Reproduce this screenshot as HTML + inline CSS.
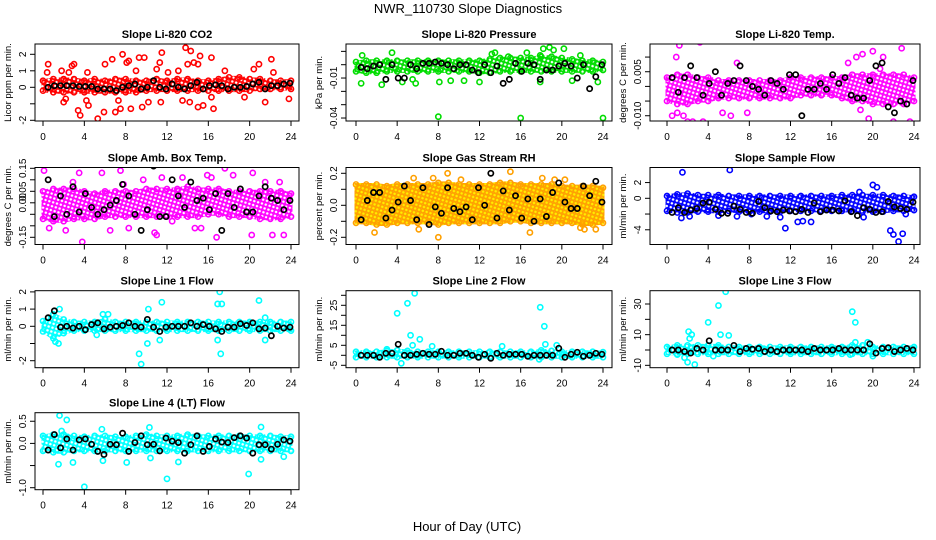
<!DOCTYPE html>
<html><head><meta charset="utf-8"><style>
html,body{margin:0;padding:0;background:#fff;}
svg{display:block;font-family:"Liberation Sans",sans-serif;}
</style></head><body>
<svg id="chart" width="936" height="540" viewBox="0 0 936 540">
<defs id="defs"></defs>
<text x="468" y="13" text-anchor="middle" font-size="13">NWR_110730  Slope Diagnostics</text>
<text x="467" y="531" text-anchor="middle" font-size="13">Hour of Day (UTC)</text>
</svg>
<script>
const xTicks=[0,4,8,12,16,20,24];
const hours=[0,1,2,3,4,5,6,7,8,9,10,11,12,13,14,15,16,17,18,19,20,21,22,23,24];
const blackX=[0.5,1.1,1.7,2.3,2.9,3.5,4.1,4.7,5.3,5.9,6.5,7.1,7.7,8.3,8.9,9.5,10.1,10.7,11.3,11.9,12.5,13.1,13.7,14.3,14.9,15.5,16.1,16.7,17.3,17.9,18.5,19.1,19.7,20.3,20.9,21.5,22.1,22.7,23.3,23.9];

const titles=["Slope Li-820 CO2","Slope Li-820 Pressure","Slope Li-820 Temp.","Slope Amb. Box Temp.","Slope Gas Stream RH","Slope Sample Flow","Slope Line 1 Flow","Slope Line 2 Flow","Slope Line 3 Flow","Slope Line 4 (LT) Flow"];
const yTitles=["Licor ppm per min.","kPa per min.","degrees C per min.","degrees C per min.","percent per min.","ml/min per min.","ml/min per min.","ml/min per min.","ml/min per min.","ml/min per min."];

const yTicks1=[-2,-1,0,1,2]; const yLab1=["-2","","0","1","2"];
const yTicks2=[-0.04,-0.03,-0.02,-0.01,0,0.01]; const yLab2=["-0.04","","","-0.01","",""];
const yTicks3=[-0.010,-0.005,0,0.005,0.010]; const yLab3=["-0.010","","","0.005",""];
const yTicks4=[-0.15,-0.10,-0.05,0,0.05,0.10,0.15]; const yLab4=["-0.15","","","0.00","0.05","","0.15"];
const yTicks5=[-0.2,-0.1,0,0.1,0.2]; const yLab5=["-0.2","","0.0","","0.2"];
const yTicks6=[-4,-2,0,2]; const yLab6=["-4","","0","2"];
const yTicks7=[-2,-1,0,1,2]; const yLab7=["-2","","0","1","2"];
const yTicks8=[-5,0,5,10,15,20,25,30]; const yLab8=["-5","","5","","15","","25",""];
const yTicks9=[-10,0,10,20,30]; const yLab9=["-10","","10","","30"];
const yTicks10=[-1,-0.5,0,0.5]; const yLab10=["-1.0","","0.0","0.5"];

// hourly envelopes of the dense point cloud
const bandLo1=[-0.2,-0.3,-0.3,-0.3,-0.3,-0.3,-0.3,-0.3,-0.3,-0.3,-0.2,-0.2,-0.2,-0.2,-0.2,-0.2,-0.2,-0.2,-0.2,-0.2,-0.2,-0.1,-0.1,-0.1,-0.1];
const bandHi1=[0.4,0.5,0.5,0.5,0.4,0.5,0.4,0.5,0.5,0.4,0.4,0.5,0.4,0.5,0.5,0.4,0.4,0.5,0.6,0.6,0.5,0.5,0.4,0.4,0.4];
const bandLo2=[-0.005,-0.006,-0.006,-0.005,-0.005,-0.005,-0.005,-0.005,-0.005,-0.005,-0.005,-0.005,-0.006,-0.006,-0.005,-0.005,-0.005,-0.005,-0.005,-0.005,-0.005,-0.005,-0.005,-0.005,-0.004];
const bandHi2=[0.002,0.003,0.003,0.003,0.003,0.003,0.003,0.003,0.003,0.003,0.003,0.003,0.003,0.004,0.005,0.005,0.005,0.005,0.006,0.006,0.005,0.004,0.003,0.003,0.002];
const bandLo3=[-0.005,-0.006,-0.006,-0.005,-0.005,-0.004,-0.004,-0.004,-0.004,-0.004,-0.004,-0.004,-0.004,-0.003,-0.003,-0.003,-0.003,-0.004,-0.005,-0.005,-0.006,-0.006,-0.006,-0.006,-0.005];
const bandHi3=[0.003,0.004,0.004,0.003,0.003,0.002,0.002,0.002,0.002,0.002,0.002,0.002,0.003,0.003,0.003,0.003,0.003,0.003,0.004,0.004,0.004,0.004,0.004,0.004,0.003];
const bandLo4=[-0.07,-0.08,-0.08,-0.07,-0.07,-0.07,-0.06,-0.06,-0.06,-0.06,-0.06,-0.06,-0.06,-0.06,-0.06,-0.06,-0.05,-0.05,-0.06,-0.06,-0.06,-0.07,-0.07,-0.07,-0.06];
const bandHi4=[0.05,0.06,0.06,0.06,0.05,0.04,0.05,0.05,0.05,0.05,0.06,0.06,0.06,0.06,0.07,0.06,0.06,0.06,0.05,0.05,0.05,0.05,0.05,0.05,0.04];
const bandLo5=[-0.11,-0.11,-0.12,-0.12,-0.11,-0.11,-0.11,-0.11,-0.12,-0.11,-0.11,-0.11,-0.11,-0.11,-0.11,-0.10,-0.10,-0.11,-0.11,-0.11,-0.11,-0.11,-0.12,-0.12,-0.11];
const bandHi5=[0.13,0.13,0.13,0.12,0.13,0.13,0.13,0.13,0.14,0.14,0.13,0.13,0.13,0.13,0.14,0.14,0.13,0.13,0.13,0.13,0.12,0.12,0.12,0.12,0.11];
const bandLo6=[-1.6,-1.8,-1.8,-1.7,-1.7,-1.7,-1.6,-1.7,-1.7,-1.7,-1.7,-1.7,-1.6,-1.6,-1.6,-1.6,-1.6,-1.6,-1.6,-1.7,-1.7,-1.7,-1.6,-1.6,-1.5];
const bandHi6=[0.3,0.5,0.6,0.4,0.4,0.4,0.3,0.3,0.3,0.3,0.3,0.3,0.3,0.3,0.3,0.3,0.3,0.4,0.4,0.4,0.4,0.4,0.3,0.3,0.2];
const bandLo7=[-0.3,-0.7,-0.4,-0.25,-0.25,-0.25,-0.25,-0.25,-0.25,-0.25,-0.25,-0.25,-0.25,-0.25,-0.25,-0.25,-0.25,-0.25,-0.25,-0.25,-0.25,-0.25,-0.25,-0.25,-0.25];
const bandHi7=[0.3,0.7,0.4,0.25,0.25,0.25,0.4,0.25,0.25,0.25,0.25,0.25,0.25,0.25,0.25,0.25,0.25,0.25,0.25,0.25,0.25,0.25,0.25,0.25,0.25];
const bandLo8=[-1,-1,-1,-1,-1,-1,-1,-1,-1,-1,-1,-1,-1,-1,-1,-1,-1,-1,-1,-1,-1,-1,-1,-1,-1];
const bandHi8=[1.8,1.8,1.8,2.2,2.5,2.2,1.8,1.8,1.8,1.8,1.8,1.8,1.8,1.8,1.8,1.8,1.8,1.8,2.5,2.2,1.8,1.8,1.8,1.8,1.6];
const bandLo9=[-2.5,-2.5,-2.5,-2.5,-2.5,-2.5,-2.5,-2.5,-2.5,-2.5,-2.5,-2.5,-2.5,-2.5,-2.5,-2.5,-2.5,-2.5,-2.5,-2.5,-2.5,-2.5,-2.5,-2.5,-2.5];
const bandHi9=[2,3,3,3,3,3,2,2,2,2,2,2,2,2,2,2,2,2,3,3,2,2,2,2,2];
const bandLo10=[-0.17,-0.2,-0.2,-0.17,-0.17,-0.17,-0.17,-0.17,-0.17,-0.17,-0.17,-0.17,-0.17,-0.17,-0.17,-0.17,-0.17,-0.17,-0.17,-0.17,-0.17,-0.17,-0.17,-0.17,-0.17];
const bandHi10=[0.17,0.2,0.2,0.17,0.15,0.17,0.17,0.15,0.15,0.17,0.2,0.17,0.17,0.17,0.2,0.17,0.17,0.17,0.17,0.17,0.17,0.17,0.17,0.15,0.15];

// isolated colored points
const outX1=[0.5,0.4,1.8,2,2.2,2.5,2.8,3,3.4,3.6,4.2,4.4,4.3,5.3,5.9,6,6.7,7,7.3,7.5,7.7,8.1,8.3,8.5,9,9.3,9.6,9.8,10.2,11,11.3,11.5,11.4,12.1,13.1,13.5,13.8,14,14.3,14.2,14.6,15,15.2,15,15.5,16.3,16.5,16.3,17.6,19.5,20.4,20.9,21.5,22.1,22.3,23.8];
const outY1=[1.4,0.9,1.0,-0.9,-0.7,0.9,1.3,1.4,-1.4,-1.7,-0.8,-1.1,0.9,-1.9,-1.5,1.4,1.7,-1.5,-0.8,-1.3,2.0,1.5,1.6,-1.3,1.0,1.8,-1.2,1.8,-0.9,1.1,1.5,2.1,-0.9,0.9,1.0,-0.8,2.4,1.4,2.2,-0.9,1.5,1.4,1.9,-1.2,-1.1,1.8,-1.3,-0.6,1.0,-0.6,1.1,1.4,-0.9,1.7,0.9,-0.7];
const outX2=[0.5,0.6,2.5,3.5,4.5,5.5,5.8,8,8.1,9.2,10.5,12,13.2,13.5,14.8,16,16.6,17.9,18.2,18.8,19.2,20.2,17.9,21,21.8,24,23.5];
const outY2=[-0.014,0.007,-0.015,0.009,-0.013,-0.011,-0.014,-0.039,-0.013,-0.012,-0.012,-0.013,0.008,0.009,0.006,-0.040,0.009,0.007,0.012,0.013,0.011,0.012,-0.013,-0.012,0.007,-0.040,-0.013];
const outX3=[0.9,1.2,2.2,2.8,3.2,0.5,1.0,1.6,2.0,2.5,3.5,3.8,5.4,6.2,6.8,7.8,17.6,18.4,19,20,20.5,20.7,21.5,22,22.8,23.3,23.6,21,19.6,18.8];
const outY3=[0.010,0.014,0.018,0.016,0.015,-0.010,-0.009,-0.010,-0.012,-0.012,-0.012,-0.013,-0.009,-0.010,0.008,-0.009,0.008,0.010,0.011,0.012,0.017,0.006,-0.015,-0.012,0.013,-0.013,-0.012,0.010,-0.011,-0.008];
const outX4=[0.1,0.6,1.7,2.2,2.9,3.8,5.7,6.5,7.5,7.8,8.3,9.7,10.8,11.0,12.5,11.5,13.5,14.7,15.3,15.9,16.8,17.6,18.4,20.2,20.3,21.5,22.2,23.3,22.9,16.3,3.5];
const outY4=[0.14,-0.11,0.05,-0.12,0.09,-0.17,0.13,-0.12,0.14,0.08,-0.11,0.10,-0.13,-0.14,-0.08,0.11,0.11,-0.11,-0.11,0.12,-0.15,0.15,0.12,-0.14,0.13,0.09,-0.14,-0.14,0.09,0.11,0.13];
const outX5=[1.8,6.1,8,8.9,5.6,7.5,15,16.9,18.1,19.3,20.3,21.8,22.2,23.3,10.2];
const outY5=[-0.17,-0.15,-0.2,0.2,0.17,0.17,0.21,-0.17,0.17,0.16,0.16,-0.14,-0.15,-0.15,0.16];
const outX6=[1.5,6.1,1.4,2.2,5,6.8,8.2,9.7,11.5,11,12.7,13.2,14,19.1,20,20.4,21.7,22,22.5,22.9,18.7,23.2];
const outY6=[3.3,3.6,-2.5,-2.3,-2.2,-2.3,-2.0,-2.3,-3.8,-2.4,-3.0,-2.9,-3.0,-2.4,1.7,1.4,-4.1,-4.6,-5.5,-4.5,0.8,-2.0];
const outX7=[1.2,1.5,1.6,5.8,6.3,9.3,9.5,10.1,10.2,11.5,11.3,16.9,16.9,17.3,17.1,17.2,20.9,21.5,21.5,5.2];
const outY7=[-0.9,-1.0,1.0,0.7,0.7,-1.6,-2.2,-1.0,1.0,1.4,-0.8,-0.8,1.3,1.3,2.0,-1.6,1.5,0.5,-0.8,-0.5];
const outX8=[4,5,5.7,5.3,6.2,5.5,4.4,17.9,18.3,18.4,17.8,19.5,3,14.2,7.4];
const outY8=[21,26,31,10,8,5,-4,24,14.5,5.5,-2,5,3,4.5,4.5];
const outX9=[2.1,2.2,2.4,4,5,5.7,5.2,6,2,2.7,1.7,4.5,18,18.3,18.3,19.5,17.8,20,1];
const outY9=[12,7.5,10,18,29,38,10,9.5,-8,-9.5,-5,-4,25,18,5,5,-3,-4,-3];
const outX10=[1.6,2.3,1.5,2.9,4,5.8,8.1,10.4,12,13.1,19.9,21.1,21.1,23.3,5.7,10.3,1.8];
const outY10=[0.63,0.53,-0.47,-0.43,-0.98,-0.39,-0.43,-0.33,-0.8,-0.42,-0.69,0.37,-0.36,-0.3,0.32,0.36,0.28];

// black (reference) points, one per blackX entry
const black1=[0,0.1,0.1,0.1,0.1,0.05,0.05,0.05,-0.1,-0.1,-0.1,-0.2,0,0.1,0.2,-0.1,0,0.4,0,-0.1,0.2,0,-0.1,0.1,0.3,-0.1,0.1,0.15,0.1,-0.1,0,0,0.05,0.2,0.3,-0.1,0.1,0.1,0.2,0.25];
const black2=[-0.002,-0.003,-0.001,0,-0.011,0,-0.010,-0.010,0,-0.003,0.001,0.001,0.002,0.001,0,-0.003,0,0,-0.004,-0.006,0,-0.006,-0.001,-0.014,-0.011,0.001,-0.005,0.001,0,-0.011,-0.004,-0.004,-0.001,0.001,-0.001,-0.010,0,-0.018,-0.009,0];
const black3=[0.003,-0.002,0.003,0.007,0.003,-0.003,0.001,0.005,-0.003,0.001,0.002,0.007,0.002,0,-0.001,-0.003,0.002,0.001,-0.001,0.004,0.004,-0.010,-0.001,-0.001,0.001,-0.001,0.004,0.001,0.003,-0.003,-0.004,-0.004,0.002,0.007,0.008,-0.007,-0.009,-0.005,-0.006,0.002];
const black4=[0.1,-0.06,0.03,-0.05,0.07,-0.04,0.04,-0.02,-0.05,-0.03,-0.01,0.01,0.08,0.03,-0.05,-0.12,-0.03,0.16,-0.06,-0.06,0.1,0.03,-0.02,0.09,0.01,0.02,-0.03,0.04,-0.12,0.04,-0.02,0.06,-0.04,-0.04,0.03,0.07,0.02,0.01,-0.03,0.01];
const black5=[-0.09,0.03,0.08,0.08,-0.08,-0.03,0.02,0.12,0.03,-0.09,0.11,-0.12,-0.01,-0.05,0.11,-0.02,-0.04,-0.01,-0.09,0.11,0,0.2,-0.08,0.09,-0.03,0.06,-0.08,0.04,-0.1,0.04,-0.07,0.08,0.14,0.02,-0.02,-0.02,0.12,0.06,0.15,0.02];
const black6=[-1.8,-1.2,-1.8,-1.5,-1.3,-0.6,-0.5,-1.4,-1.9,-1.9,-1.0,-1.4,-1.8,-1.9,-0.4,-1.2,-1.6,-1.7,-1.5,-1.6,-1.7,-1.4,-1.8,-0.6,-1.7,-1.5,-1.5,-1.6,-0.3,-1.7,-2.2,-1.2,-1.4,-1.8,-1.7,-0.4,-1.1,-1.3,-1.4,-0.5];
const black7=[0.5,0.9,-0.05,0,-0.1,0,-0.2,0.1,0.2,-0.15,-0.05,0,0.05,0.2,0,-0.05,0.4,-0.05,-0.3,-0.05,0,0,0,0.2,0,0.1,0,-0.15,-0.3,-0.05,-0.05,0.15,0.05,0.2,-0.15,-0.1,-0.55,0,-0.1,-0.05];
const black8=[0,0,0,-1,1,1,5.5,0,0,0.5,1,0.5,0.5,2,0,0,1,1,0,-1,0.5,-1.5,1,0,0.5,0.5,0.5,-0.5,0,0,0,0,3.5,-1,0.5,1.5,-0.5,0,1,0.5];
const black9=[0,0,-1,-2,1,0,6,0,0,0,3,-1,1,0.5,1,-1,0,-1,0,0,0,0,-1,1,0,0,0,1,0,0,0,0,4,-2,1,1.5,-1,0,1,0];
const black10=[-0.15,0.2,-0.1,0.1,-0.15,0.08,0.1,-0.02,-0.18,-0.25,-0.02,-0.03,0.23,-0.18,0.02,0.17,-0.03,-0.02,-0.17,0.12,0.05,0.02,-0.22,-0.03,0.17,-0.18,-0.07,0.1,0.03,0.02,0.13,0.17,0.12,-0.22,-0.03,-0.03,-0.13,-0.02,0.08,0.05];

const yTickSets=[yTicks1,yTicks2,yTicks3,yTicks4,yTicks5,yTicks6,yTicks7,yTicks8,yTicks9,yTicks10];
const yLabSets=[yLab1,yLab2,yLab3,yLab4,yLab5,yLab6,yLab7,yLab8,yLab9,yLab10];
const bandLos=[bandLo1,bandLo2,bandLo3,bandLo4,bandLo5,bandLo6,bandLo7,bandLo8,bandLo9,bandLo10];
const bandHis=[bandHi1,bandHi2,bandHi3,bandHi4,bandHi5,bandHi6,bandHi7,bandHi8,bandHi9,bandHi10];
const outXs=[outX1,outX2,outX3,outX4,outX5,outX6,outX7,outX8,outX9,outX10];
const outYs=[outY1,outY2,outY3,outY4,outY5,outY6,outY7,outY8,outY9,outY10];
const blacks=[black1,black2,black3,black4,black5,black6,black7,black8,black9,black10];

// layout (pixels)
const colBox=[[35,299],[346,612],[650,920]];
const colX=[[43,291],[356,603],[667,914]];
const rowTop=[44,167.5,290.7,412.7];
const boxH=77;
const zeroPx=[87.3,64.7,86.4,202.8,205.3,198.3,326.3,355.3,350,443.4];
const pxPer=[16.5,1333,2933,230,160,7.87,17.2,2,1.533,44.3];
const colors=["#ff0000","#00dd00","#ff00ff","#ff00ff","#ffa000","#0000ff","#00ffff","#00ffff","#00ffff","#00ffff"];
const inner=["none","none","none","none","#ffee00","none","none","none","none","none"];

const NS="http://www.w3.org/2000/svg";
const svg=document.getElementById('chart');
const defs=document.getElementById('defs');
function el(tag,attrs,parent){const e=document.createElementNS(NS,tag);for(const k in attrs)e.setAttribute(k,attrs[k]);(parent||svg).appendChild(e);return e;}

for(let p=0;p<10;p++){
  const pat=el('pattern',{id:'pat'+p,width:4,height:4,patternUnits:'userSpaceOnUse',patternTransform:'rotate(17)'},defs);
  el('circle',{cx:2,cy:2,r:2,fill:inner[p],stroke:colors[p],'stroke-width':1.4},pat);
}

for(let p=0;p<10;p++){
  const col=p%3,row=Math.floor(p/3);
  const [bl,br]=colBox[col],[x0,x24]=colX[col];
  const top=rowTop[row],bot=top+boxH;
  const sx=h=>x0+(x24-x0)*h/24;
  const sy=v=>zeroPx[p]-v*pxPer[p];
  const g=el('g',{});
  
  
  const clipId='clip'+p;
  const cp=el('clipPath',{id:clipId},g);el('rect',{x:bl,y:top,width:br-bl,height:boxH},cp);
  const data=el('g',{'clip-path':'url(#'+clipId+')'},g);
  const lo=bandLos[p],hi=bandHis[p];
  let d='';
  for(let i=0;i<hours.length;i++)d+=(i?'L':'M')+sx(hours[i]).toFixed(1)+','+sy(hi[i]).toFixed(1);
  for(let i=hours.length-1;i>=0;i--)d+='L'+sx(hours[i]).toFixed(1)+','+sy(lo[i]).toFixed(1);
  const band=el('path',{d:d+'Z',fill:'url(#pat'+p+')',stroke:'url(#pat'+p+')','stroke-width':3},data);
  
  
  for(let i=0;i<hours.length;i++){
    for(const v of [lo[i],hi[i]]){
      const c=el('circle',{cx:sx(hours[i]),cy:sy(v),r:2.6,fill:'none',stroke:colors[p],'stroke-width':1.5},data);
      
      
    }
  }
  const ox=outXs[p],oy=outYs[p];
  for(let i=0;i<Math.min(ox.length,oy.length);i++){
    const c=el('circle',{cx:sx(ox[i]),cy:sy(oy[i]),r:2.6,fill:'none',stroke:colors[p],'stroke-width':1.6},data);
    
    
  }
  const bk=blacks[p];
  for(let i=0;i<Math.min(bk.length,blackX.length);i++){
    const c=el('circle',{cx:sx(blackX[i]),cy:sy(bk[i]),r:2.6,fill:'none',stroke:'#000','stroke-width':1.7},data);
    
    
  }
  const box=el('rect',{x:bl,y:top,width:br-bl,height:boxH,fill:'none',stroke:'#000','stroke-width':1},g);
  
  
  const xa=el('g',{},g);
  
  
  el('line',{x1:sx(0),x2:sx(24),y1:bot,y2:bot,stroke:'#000'},xa);
  for(const t of xTicks){
    el('line',{x1:sx(t),x2:sx(t),y1:bot,y2:bot+5,stroke:'#000'},xa);
    const tx=el('text',{x:sx(t),y:bot+19,'text-anchor':'middle','font-size':10},xa);
    tx.textContent=t;
    
    
  }
  const ya=el('g',{},g);
  
  
  const yt=yTickSets[p],yl=yLabSets[p];
  el('line',{x1:bl,x2:bl,y1:sy(yt[0]),y2:sy(yt[yt.length-1]),stroke:'#000'},ya);
  for(let i=0;i<yt.length;i++){
    const y=sy(yt[i]);
    el('line',{x1:bl-5,x2:bl,y1:y,y2:y,stroke:'#000'},ya);
    if(yl[i]){
      const tx=el('text',{x:bl-9,y:y,'text-anchor':'middle','font-size':10,transform:'rotate(-90 '+(bl-9)+' '+y+')'},ya);
      tx.textContent=yl[i];
      
      
    }
  }
  const cy=top+boxH/2;
  const ttl=el('text',{x:bl-24,y:cy,'text-anchor':'middle','font-size':9.5,transform:'rotate(-90 '+(bl-24)+' '+cy+')'},g);
  ttl.textContent=yTitles[p];
  
  
  const pt=el('text',{x:(bl+br)/2,y:top-6,'text-anchor':'middle','font-size':11,'font-weight':'bold'},g);
  pt.textContent=titles[p];
  
  
}
</script>
</body></html>
